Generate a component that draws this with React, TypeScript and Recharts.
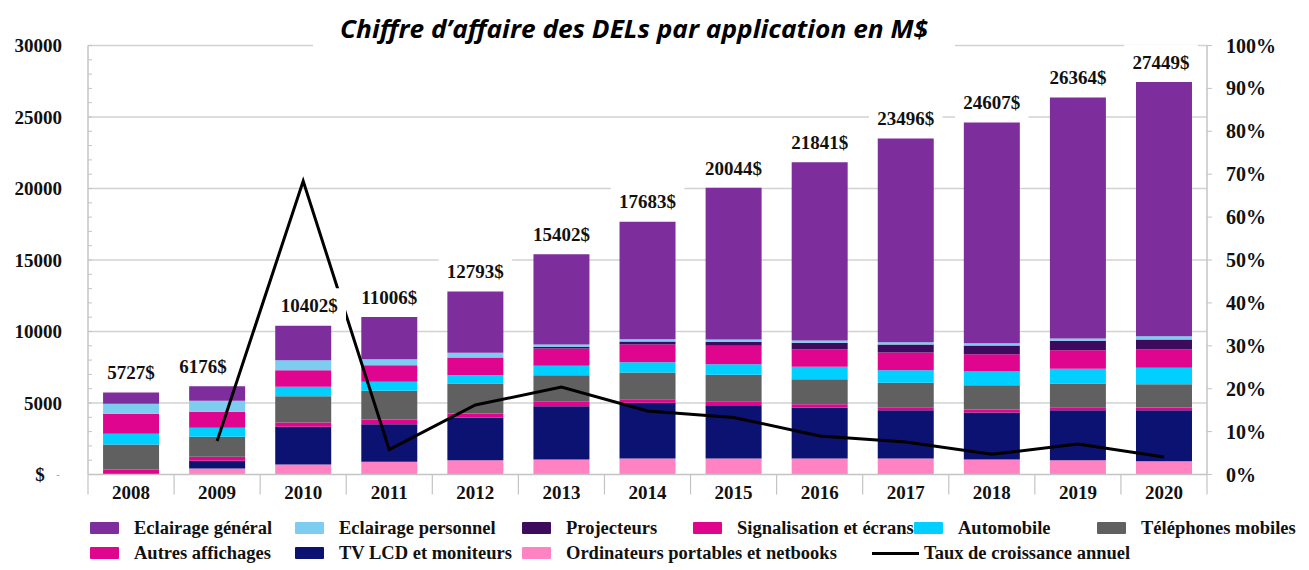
import React from 'react';
import { ComposedChart, Bar, Line, XAxis, YAxis, CartesianGrid, Legend } from 'recharts';

// ---------- data ----------
const years = ['2008', '2009', '2010', '2011', '2012', '2013', '2014', '2015', '2016', '2017', '2018', '2019', '2020'];
const totals = [5727, 6176, 10402, 11006, 12793, 15402, 17683, 20044, 21841, 23496, 24607, 26364, 27449];
const ordinateurs = [0, 420, 700, 886, 1002, 1049, 1119, 1119, 1119, 1119, 1049, 1002, 932];
const tvLcd = [0, 536, 2634, 2634, 2960, 3730, 3893, 3730, 3543, 3380, 3287, 3497, 3566];
const autresAffichages = [350, 280, 303, 326, 303, 303, 256, 280, 256, 210, 210, 210, 186];
const telephones = [1750, 1400, 1840, 2005, 2098, 1865, 1865, 1841, 1748, 1702, 1702, 1655, 1632];
const automobile = [746, 630, 653, 629, 583, 653, 723, 746, 862, 886, 956, 1026, 1142];
const signalisation = [1400, 1120, 1165, 1165, 1235, 1212, 1235, 1282, 1235, 1235, 1212, 1305, 1305];
const projecteurs = [0, 0, 0, 0, 0, 100, 210, 280, 443, 559, 606, 653, 676];
const eclairagePerso = [700, 770, 700, 420, 326, 186, 163, 163, 163, 163, 163, 163, 233];
const eclairageGeneral = [781, 1020, 2407, 2941, 4286, 6304, 8219, 10603, 12472, 14242, 15422, 16853, 17777];
const growth = [null, 7.8, 68.4, 5.8, 16.2, 20.4, 14.8, 13.3, 9.0, 7.6, 4.7, 7.1, 4.1];

const leftTicks = [0, 1000, 2000, 3000, 4000, 5000, 6000, 7000, 8000, 9000, 10000, 11000, 12000, 13000, 14000, 15000,
  16000, 17000, 18000, 19000, 20000, 21000, 22000, 23000, 24000, 25000, 26000, 27000, 28000, 29000, 30000];
const gridValues = [5000, 10000, 15000, 20000, 25000, 30000];
const rightTicks = [0, 10, 20, 30, 40, 50, 60, 70, 80, 90, 100];

const TITLE = 'Chiffre d\u2019affaire des DELs par application en M$';

// stacking order bottom -> top
const SERIES = [
  { key: 'ordinateurs', name: 'Ordinateurs portables et netbooks', color: '#FF82C2', values: ordinateurs },
  { key: 'tvLcd', name: 'TV LCD et moniteurs', color: '#0B1271', values: tvLcd },
  { key: 'autresAffichages', name: 'Autres affichages', color: '#E0058E', values: autresAffichages },
  { key: 'telephones', name: 'Téléphones mobiles', color: '#606060', values: telephones },
  { key: 'automobile', name: 'Automobile', color: '#00CFFF', values: automobile },
  { key: 'signalisation', name: 'Signalisation et écrans', color: '#E0058E', values: signalisation },
  { key: 'projecteurs', name: 'Projecteurs', color: '#3D0A5E', values: projecteurs },
  { key: 'eclairagePerso', name: 'Eclairage personnel', color: '#7CCDF0', values: eclairagePerso },
  { key: 'eclairageGeneral', name: 'Eclairage général', color: '#7E2E9C', values: eclairageGeneral },
];

const data = years.map((year, i) => {
  const row: any = { year, total: totals[i], growth: growth[i] };
  SERIES.forEach((s) => { row[s.key] = s.values[i]; });
  return row;
});

// ---------- layout ----------
const W = 1309;
const H = 570;
const PLOT_LEFT = 88;
const PLOT_RIGHT = 1207;
const PLOT_TOP = 45.5;
const PLOT_BOTTOM = 474.5;
const LEFT_AXIS_W = 80;
const RIGHT_AXIS_W = 60;
const X_AXIS_H = 30;
const BAND = (PLOT_RIGHT - PLOT_LEFT) / years.length;
// horizontal nudges of some total labels (by category index), as in the reference
const LABEL_DX: Record<number, number> = { 1: -14, 2: 6, 12: -3 };

const SERIF = '"Liberation Serif", "Times New Roman", serif';
const AXIS_GREY = '#c4c4c4';

const LeftTick = (props: any) => {
  const { x, y, payload } = props;
  const v = payload.value;
  return (
    <g>
      <line x1={x} x2={x + 4} y1={y} y2={y} stroke={AXIS_GREY} strokeWidth={1} />
      {v > 0 && v % 5000 === 0 && (
        <text x={x - 26} y={y} dy="0.35em" textAnchor="end" fontFamily={SERIF} fontWeight="bold" fontSize={19} fill="#111">
          {v}
        </text>
      )}
      {v === 0 && (
        <g>
          <text x={x - 48} y={y} dy="0.35em" textAnchor="middle" fontFamily={SERIF} fontWeight="bold" fontSize={19} fill="#111">$</text>
          <text x={x - 30} y={y} dy="0.35em" textAnchor="middle" fontFamily={SERIF} fontSize={11} fill="#999">-</text>
        </g>
      )}
    </g>
  );
};

const RightTick = (props: any) => {
  const { x, y, payload } = props;
  return (
    <g>
      <line x1={x} x2={x + 5} y1={y} y2={y} stroke={AXIS_GREY} strokeWidth={1} />
      <text x={x + 19} y={y} dy="0.35em" textAnchor="start" fontFamily={SERIF} fontWeight="bold" fontSize={20} fill="#111">
        {payload.value}%
      </text>
    </g>
  );
};

const XTick = (props: any) => {
  const { x, y, payload, index } = props;
  const half = BAND / 2;
  return (
    <g>
      <line x1={x - half} x2={x - half} y1={y} y2={y + 20} stroke={AXIS_GREY} strokeWidth={1.2} />
      {index === years.length - 1 && (
        <line x1={x + half} x2={x + half} y1={y} y2={y + 20} stroke={AXIS_GREY} strokeWidth={1.2} />
      )}
      <text x={x} y={y + 18} dy="0.35em" textAnchor="middle" fontFamily={SERIF} fontWeight="bold" fontSize={19} fill="#111">
        {payload.value}
      </text>
    </g>
  );
};

const TotalLabel = (props: any) => {
  const { x, y, value, index } = props;
  if (x == null || y == null) return null;
  const txt = `${value}$`;
  const tw = txt.length * 9.6;
  const w = tw + 16;
  const cx = x + (LABEL_DX[index] || 0);
  const cy = y - 20;
  return (
    <g>
      <rect x={cx - w / 2} y={cy - 17.5} width={w} height={33} fill="#ffffff" />
      <text x={cx} y={cy} dy="0.35em" textAnchor="middle" fontFamily={SERIF} fontWeight="bold" fontSize={19} fill="#111">
        {txt}
      </text>
    </g>
  );
};

// legend layout (page coordinates of each entry's text start and row)
const LEGEND_ITEMS = [
  { key: 'eclairageGeneral', textX: 134, row: 0 },
  { key: 'eclairagePerso', textX: 339, row: 0 },
  { key: 'projecteurs', textX: 566, row: 0 },
  { key: 'signalisation', textX: 737, row: 0 },
  { key: 'automobile', textX: 958, row: 0 },
  { key: 'telephones', textX: 1141, row: 0 },
  { key: 'autresAffichages', textX: 134, row: 1 },
  { key: 'tvLcd', textX: 339, row: 1 },
  { key: 'ordinateurs', textX: 566, row: 1 },
  { key: 'growth', textX: 924, row: 1 },
];
const LEGEND_ROW_Y = [528, 553];

const LegendContent = () => (
  <div style={{ position: 'relative', width: W, height: 60 }}>
    {LEGEND_ITEMS.map((it) => {
      const s = SERIES.find((q) => q.key === it.key);
      const name = s ? s.name : 'Taux de croissance annuel';
      const cy = LEGEND_ROW_Y[it.row] - 505;
      return (
        <div key={it.key}>
          {s ? (
            <div
              style={{
                position: 'absolute', left: it.textX - 44, top: cy - 6, width: 29, height: 12,
                background: s.color, borderRadius: 1,
              }}
            />
          ) : (
            <div style={{ position: 'absolute', left: it.textX - 52, top: cy - 1.5, width: 47, height: 3, background: '#000' }} />
          )}
          <div
            style={{
              position: 'absolute', left: it.textX, top: cy - 11, height: 22, lineHeight: '22px',
              fontFamily: SERIF, fontWeight: 'bold', fontSize: 18.5, color: '#111', whiteSpace: 'nowrap',
            }}
          >
            {name}
          </div>
        </div>
      );
    })}
  </div>
);

export default function App() {
  return (
    <div style={{ position: 'absolute', left: 0, top: 0, width: W, height: H, background: '#fff' }}>
      <ComposedChart
        width={W}
        height={H}
        data={data}
        margin={{
          top: PLOT_TOP,
          right: W - PLOT_RIGHT - RIGHT_AXIS_W,
          bottom: H - PLOT_BOTTOM - X_AXIS_H,
          left: PLOT_LEFT - LEFT_AXIS_W,
        }}
        barCategoryGap="17.5%"
      >
        <CartesianGrid yAxisId="left" vertical={false} horizontalValues={gridValues} stroke="#d2d2d2" strokeWidth={1.5} />
        <XAxis
          dataKey="year"
          height={X_AXIS_H}
          interval={0}
          tickSize={0}
          tickMargin={0}
          tickLine={false}
          axisLine={{ stroke: AXIS_GREY, strokeWidth: 1.5 }}
          tick={<XTick />}
        />
        <YAxis
          yAxisId="left"
          orientation="left"
          width={LEFT_AXIS_W}
          domain={[0, 30000]}
          ticks={leftTicks}
          interval={0}
          tickSize={0}
          tickMargin={0}
          tickLine={false}
          axisLine={{ stroke: AXIS_GREY, strokeWidth: 1.5 }}
          tick={<LeftTick />}
        />
        <YAxis
          yAxisId="right"
          orientation="right"
          width={RIGHT_AXIS_W}
          domain={[0, 100]}
          ticks={rightTicks}
          interval={0}
          tickSize={0}
          tickMargin={0}
          tickLine={false}
          axisLine={{ stroke: AXIS_GREY, strokeWidth: 1.5 }}
          tick={<RightTick />}
        />
        {SERIES.map((s) => (
          <Bar key={s.key} yAxisId="left" dataKey={s.key} name={s.name} stackId="a" fill={s.color} isAnimationActive={false} />
        ))}
        <Line
          yAxisId="right"
          dataKey="growth"
          name="Taux de croissance annuel"
          stroke="#000"
          strokeWidth={3}
          dot={false}
          activeDot={false}
          connectNulls={false}
          isAnimationActive={false}
        />
        <Line
          yAxisId="left"
          dataKey="total"
          stroke="none"
          dot={false}
          activeDot={false}
          legendType="none"
          isAnimationActive={false}
          label={<TotalLabel />}
        />
        <Legend
          verticalAlign="middle"
          align="center"
          layout="horizontal"
          wrapperStyle={{ top: 505, left: 0, width: W, height: 60 }}
          content={<LegendContent />}
        />
      </ComposedChart>
      <svg
        width={642}
        height={42}
        style={{ position: 'absolute', left: 313, top: 12, background: '#fff' }}
      >
        <text
          x={321}
          y={26}
          textAnchor="middle"
          textLength={588}
          lengthAdjust="spacingAndGlyphs"
          fontFamily='"Open Sans", "Noto Sans", sans-serif'
          fontWeight="bold"
          fontStyle="italic"
          fontSize={25}
          fill="#000"
        >
          {TITLE}
        </text>
      </svg>
    </div>
  );
}
